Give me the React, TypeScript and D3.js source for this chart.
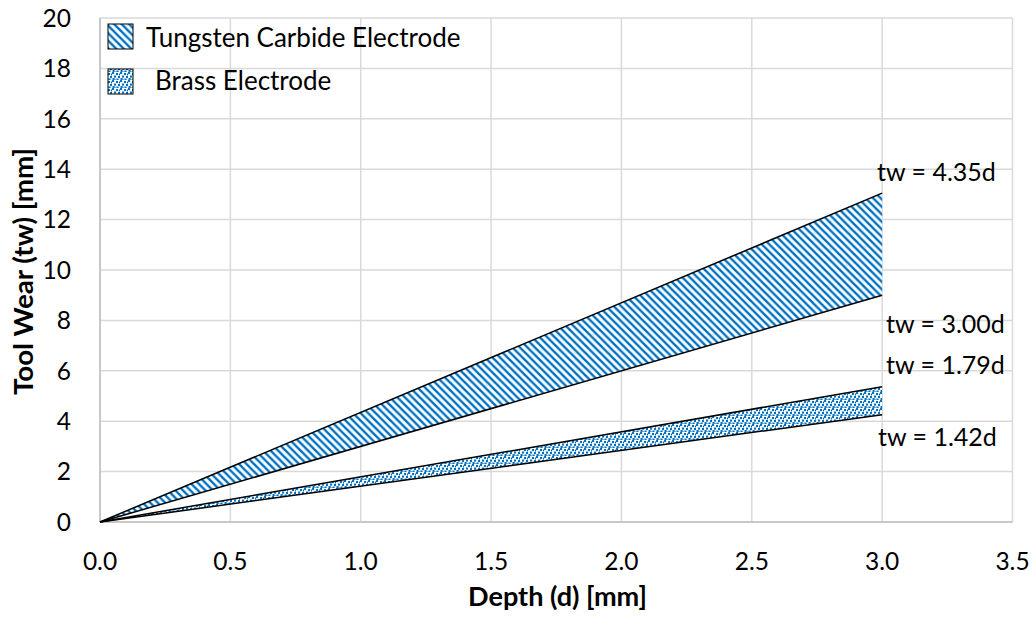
import React from "react";
import * as d3 from "d3";

const xTicks = [0, 0.5, 1.0, 1.5, 2.0, 2.5, 3.0, 3.5];
const yTicks = [0, 2, 4, 6, 8, 10, 12, 14, 16, 18, 20];
const depthRange = [0, 3];
const tungstenSlopes = [4.35, 3.0]; // upper, lower
const brassSlopes = [1.79, 1.42]; // upper, lower
const equationLabels = ["tw = 4.35d", "tw = 3.00d", "tw = 1.79d", "tw = 1.42d"];
const legendLabels = ["Tungsten Carbide Electrode", "Brass Electrode"];
const xTitle = "Depth (d) [mm]";
const yTitle = "Tool Wear (tw) [mm]";

const W = 1035;
const H = 619;
const FONT = "Lato, 'Open Sans', sans-serif";
const BLUE = "#0070C0";

// confetti dot offsets inside an 8x8 tile (pattern design, not data)
const dots: [number, number][] = [
  [0, 0], [4, 1], [2, 3.5], [6, 4], [0.5, 6], [4.5, 6.5], [7, 1.5], [2.5, 7.5],
];

export default function App() {
  const x = d3.scaleLinear().domain([0, 3.5]).range([100, 1012.5]);
  const y = d3.scaleLinear().domain([0, 20]).range([522, 18]);

  const band = (hi: number, lo: number) =>
    d3
      .area<number>()
      .x((d) => x(d))
      .y0((d) => y(lo * d))
      .y1((d) => y(hi * d))(depthRange) || "";

  const line = (s: number) =>
    d3
      .line<number>()
      .x((d) => x(d))
      .y((d) => y(s * d))(depthRange) || "";

  const slopes = [...tungstenSlopes, ...brassSlopes];
  // label anchor positions (layout)
  const labelPos: [number, number][] = [
    [877, 181],
    [886, 333],
    [886, 374],
    [878, 446],
  ];

  return (
    <svg
      width={W}
      height={H}
      style={{ position: "absolute", left: 0, top: 0, background: "#fff" }}
      fontFamily={FONT}
    >
      <defs>
        <pattern id="hatch" width={7.5} height={7.5} patternUnits="userSpaceOnUse">
          <rect width={7.5} height={7.5} fill="#fff" />
          <path
            d="M-1,-1 L8.5,8.5 M-1,6.5 L1,8.5 M6.5,-1 L8.5,1"
            stroke={BLUE}
            strokeWidth={2.4}
          />
        </pattern>
        <pattern id="dots" width={8} height={8} patternUnits="userSpaceOnUse">
          <rect width={8} height={8} fill="#fff" />
          {dots.map(([dx, dy], i) => (
            <rect key={i} x={dx} y={dy} width={2.1} height={2.1} fill={BLUE} />
          ))}
        </pattern>
      </defs>

      {/* gridlines */}
      {xTicks.map((t) => (
        <line
          key={"gx" + t}
          x1={x(t)}
          x2={x(t)}
          y1={y(0)}
          y2={y(20)}
          stroke="#d9d9d9"
          strokeWidth={1.5}
        />
      ))}
      {yTicks.map((t) => (
        <line
          key={"gy" + t}
          x1={x(0)}
          x2={x(3.5)}
          y1={y(t)}
          y2={y(t)}
          stroke="#d9d9d9"
          strokeWidth={1.5}
        />
      ))}
      {/* axes */}
      <line x1={x(0)} x2={x(0)} y1={y(0)} y2={y(20)} stroke="#bfbfbf" strokeWidth={1.5} />
      <line x1={x(0)} x2={x(3.5)} y1={y(0)} y2={y(0)} stroke="#bfbfbf" strokeWidth={1.5} />

      {/* bands */}
      <path d={band(tungstenSlopes[0], tungstenSlopes[1])} fill="url(#hatch)" />
      <path d={band(brassSlopes[0], brassSlopes[1])} fill="url(#dots)" />

      {/* lines */}
      {slopes.map((s) => (
        <path key={"l" + s} d={line(s)} fill="none" stroke="#000" strokeWidth={1.5} />
      ))}

      {/* equation labels */}
      {equationLabels.map((t, i) => (
        <text key={t} x={labelPos[i][0]} y={labelPos[i][1]} fontSize={25} fill="#000">
          {t}
        </text>
      ))}

      {/* tick labels */}
      {yTicks.map((t) => (
        <text
          key={"ty" + t}
          x={71}
          y={y(t)}
          dy="0.36em"
          textAnchor="end"
          fontSize={24.5}
          fill="#000"
        >
          {t}
        </text>
      ))}
      {xTicks.map((t) => (
        <text
          key={"tx" + t}
          x={x(t)}
          y={570}
          textAnchor="middle"
          fontSize={24.5}
          fill="#000"
        >
          {t.toFixed(1)}
        </text>
      ))}

      {/* axis titles */}
      <text
        x={557.5}
        y={606}
        textAnchor="middle"
        fontSize={26}
        fontWeight="bold"
        fill="#000"
        textLength={179}
        lengthAdjust="spacingAndGlyphs"
      >
        {xTitle}
      </text>
      <text
        transform={`translate(33,271.5) rotate(-90)`}
        textAnchor="middle"
        fontSize={26}
        fontWeight="bold"
        fill="#000"
        textLength={247}
        lengthAdjust="spacingAndGlyphs"
      >
        {yTitle}
      </text>

      {/* legend */}
      <rect x={108} y={24} width={25} height={25} fill="url(#hatch)" stroke="#000" strokeWidth={1} />
      <text x={146} y={47} fontSize={26} fill="#000">
        {legendLabels[0]}
      </text>
      <rect x={108} y={69} width={25} height={25} fill="url(#dots)" stroke="#000" strokeWidth={1} />
      <text x={155} y={90} fontSize={26} fill="#000">
        {legendLabels[1]}
      </text>
    </svg>
  );
}
